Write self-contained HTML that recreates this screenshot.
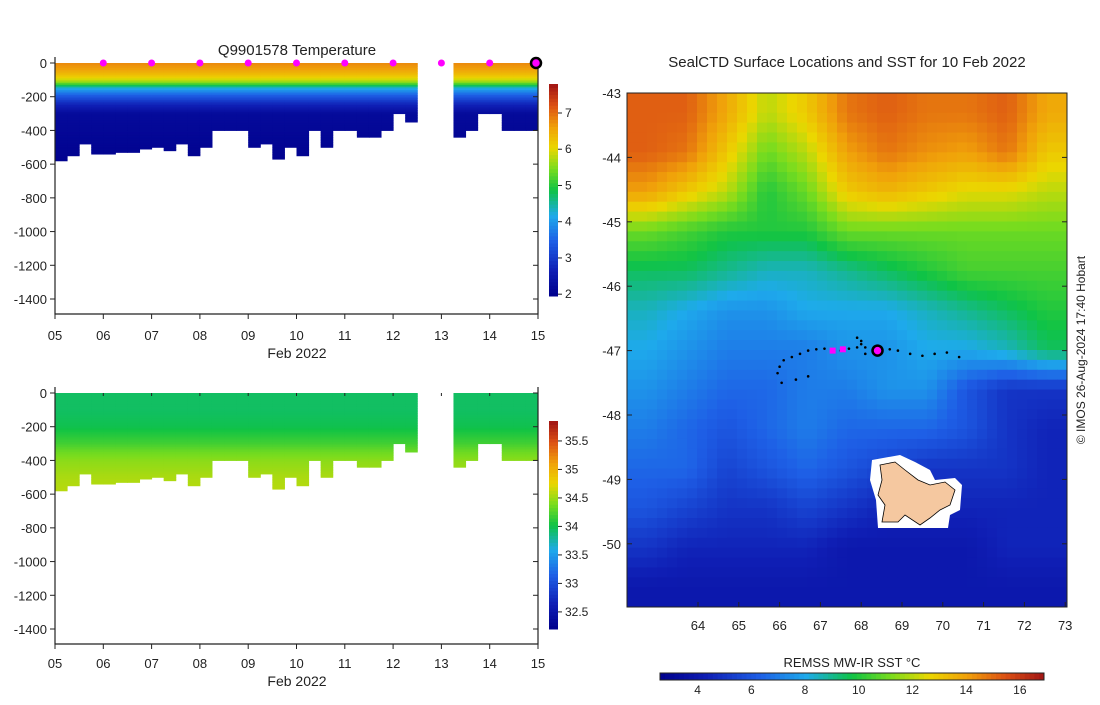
<!DOCTYPE html>
<html><head><meta charset="utf-8"><style>
body{margin:0;background:#fff;}
svg{font-family:"Liberation Sans","DejaVu Sans",sans-serif;}
</style></head><body>
<svg id="s" width="1100" height="700"></svg>
<script>
// ---- data ----
const profileTimes=[5.0,5.25,5.5,5.75,6.0,6.25,6.5,6.75,7.0,7.25,7.5,7.75,8.0,8.25,8.5,8.75,9.0,9.25,9.5,9.75,10.0,10.25,10.5,10.75,11.0,11.25,11.5,11.75,12.0,12.25,13.25,13.5,13.75,14.0,14.25,14.5,14.75];
const profileMaxDepth=[580,550,480,540,540,525,525,510,500,520,480,550,500,400,400,400,500,480,570,500,550,400,500,400,400,440,440,400,300,350,440,400,300,300,400,400,400];
const tempDepths=[0,40,80,110,130,150,190,240,300,600];
const tempValues=[6.8,6.6,6.2,5.7,5.0,4.2,3.5,2.8,2.2,2.0];
const salDepths=[0,100,200,250,300,350,400,500,600];
const salValues=[33.95,33.95,34.0,34.1,34.2,34.35,34.45,34.55,34.6];
const markerDays=[6,7,8,9,10,11,12,13,14];
const xTicks=["05","06","07","08","09","10","11","12","13","14","15"];
const yTicks=[0,-200,-400,-600,-800,-1000,-1200,-1400];
const tempCbTicks=[2,3,4,5,6,7];
const salCbTicks=[32.5,33,33.5,34,34.5,35,35.5];
const sstGrid=[
[15.2,15.2,13.8,12,13,14.8,15.2,14.8,14.8,15.2,13.8],
[15.2,14.8,13,11,12,14,14.8,14.3,14,14.8,13],
[14,13,12,10,11,13,13.5,13,12.5,12.5,12],
[11,10.5,10,10,10,11,11,11,11,11,11],
[9.5,9.5,9,8.5,8.5,9,9.5,10,10.5,10.5,10.5],
[8.5,8,7.5,7.5,8,8,8,8.5,9,9.5,10],
[8,7.5,7,7,7,7.5,7.5,8,8,8.5,9.5],
[7.5,7,6.5,6.5,7,7,7.5,7.5,6,5,5],
[7,6.5,6,6.5,7,6.5,6.5,6.5,6,5,4.5],
[6.5,6.5,5.5,6,6.5,6,5.5,5,5,5,4.5],
[6,5.5,5,5,5.5,5,4.5,4.5,4.5,4.5,4.5],
[5,4.5,4.5,4.5,4.5,4,4,4,4,4.5,4.5],
[4,4,4,4,4,4,4,4,4,4,4]];
const lonTicks=[64,65,66,67,68,69,70,71,72,73];
const latTicks=[-43,-44,-45,-46,-47,-48,-49,-50];
const sstTicks=[4,6,8,10,12,14,16];
const trackLon=[65.95,66.0,66.1,66.3,66.5,66.7,66.9,67.1,67.3,67.5,67.7,67.9,68.0,68.1,68.3,68.5,68.7,68.9,69.2,69.5,69.8,70.1,70.4,66.05,66.4,66.7,67.9,68.0,68.1];
const trackLat=[-47.35,-47.25,-47.15,-47.1,-47.05,-47.0,-46.98,-46.97,-47.0,-47.0,-46.97,-46.95,-46.85,-46.95,-47.0,-46.98,-46.98,-47.0,-47.05,-47.08,-47.05,-47.03,-47.1,-47.5,-47.45,-47.4,-46.8,-46.9,-47.05];
// ---- helpers ----
const S=document.getElementById('s');const NS='http://www.w3.org/2000/svg';
function el(t,a,p){const e=document.createElementNS(NS,t);for(const k in a)e.setAttribute(k,a[k]);(p||S).appendChild(e);return e;}
const stops=[[0,[0,0,140]],[0.12,[15,30,180]],[0.26,[30,95,230]],[0.38,[30,170,235]],[0.5,[15,195,70]],[0.6,[120,220,30]],[0.7,[235,215,0]],[0.8,[240,160,10]],[0.9,[220,80,20]],[1,[160,20,20]]];
function cmap(t){t=Math.max(0,Math.min(1,t));for(let i=1;i<stops.length;i++){if(t<=stops[i][0]){const a=stops[i-1],b=stops[i];const f=(t-a[0])/(b[0]-a[0]);const c=a[1].map((v,j)=>Math.round(v+(b[1][j]-v)*f));return `rgb(${c})`;}}return 'rgb(160,20,20)';}
function txt(x,y,s,size,anchor,name,extra){const t=el('text',Object.assign({x:x,y:y,'font-size':size||13,'text-anchor':anchor||'middle',fill:'#222'},extra||{}));t.textContent=s;return t;}
function interp(xs,ys,x){if(x<=xs[0])return ys[0];for(let i=1;i<xs.length;i++){if(x<=xs[i]){const f=(x-xs[i-1])/(xs[i]-xs[i-1]);return ys[i-1]+(ys[i]-ys[i-1])*f;}}return ys[ys.length-1];}

function profilePanel(top,name,depths,vals,vmin,vmax,cbTop,cbBot,cbTicks,markers,title,lblOff){
  const L=55,R=538,y0=top,ppd=236/1400,B=y0+251;
  const X=d=>55+(d-5)*48.3; const Y=z=>y0+z*ppd;
  const g=el('g',{});
  profileTimes.forEach((t,i)=>{
    const md=profileMaxDepth[i];const step=10;
    for(let z=0;z<md;z+=step){const v=interp(depths,vals,z+step/2);
      const r=el('rect',{x:X(t),y:Y(z),width:48.3*0.25+0.5,height:step*ppd+0.5,fill:cmap((v-vmin)/(vmax-vmin))},g);
      }
  });
  el('polyline',{points:`${L},${y0-6} ${L},${B} ${R},${B} ${R},${y0-6}`,fill:'none',stroke:'#222','stroke-width':1.2},g);
  yTicks.forEach(v=>{const y=Y(-v);el('line',{x1:L,x2:L-5,y1:y,y2:y,stroke:'#222'},g);el('line',{x1:R,x2:R-5,y1:y,y2:y,stroke:'#222'},g);txt(L-8,y+5,String(v),13,'end','y-tick-label');});
  xTicks.forEach((s,i)=>{const x=X(5+i);el('line',{x1:x,x2:x,y1:B,y2:B+5,stroke:'#222'},g);el('line',{x1:x,x2:x,y1:y0,y2:y0+3,stroke:'#222'},g);txt(x,B+lblOff,s,13,'middle','x-tick-label');});
  txt(297,B+lblOff+18,'Feb 2022',14,'middle','x-axis-title');
  if(title)txt(297,y0-8,title,15,'middle','chart-title');
  if(markers)markers.forEach(d=>{const m=el('circle',{cx:X(d),cy:y0,r:3.5,fill:'#f0f'},g);});
  const cbL=549,cbW=9,n=60;
  for(let i=0;i<n;i++){const yy=cbBot-(cbBot-cbTop)*(i+1)/n;const v=vmin+(vmax-vmin)*(i+0.5)/n;el('rect',{x:cbL,y:yy,width:cbW,height:(cbBot-cbTop)/n+0.5,fill:cmap((v-vmin)/(vmax-vmin))},g);}
  cbTicks.forEach(v=>{const yy=cbBot-(v-vmin)/(vmax-vmin)*(cbBot-cbTop);el('line',{x1:cbL+cbW,x2:cbL+cbW+4,y1:yy,y2:yy,stroke:'#222'},g);txt(cbL+cbW+7,yy+4,String(v),12,'start','colorbar-tick');});
}
profilePanel(63,'temperature',tempDepths,tempValues,1.95,7.8,84,296,tempCbTicks,markerDays,'Q9901578  Temperature',26);
el('circle',{cx:536,cy:63,r:5,fill:'#f0f',stroke:'#000','stroke-width':2.5});
profilePanel(393,'salinity',salDepths,salValues,32.2,35.85,421,629,salCbTicks,null,null,24);

// ---- map ----
const mL=627,mR=1067,mT=93,mB=607;
const LX=lon=>698+(lon-64)*40.8, LY=lat=>93+(-43-lat)*64.4;
const mg=el('g',{});
const sMin=2.6,sMax=16.9;
const rows=sstGrid.length,cols=sstGrid[0].length,cw=(mR-mL)/cols,ch=(mB-mT)/rows;
const sub=4;
function gv(r,c){r=Math.max(0,Math.min(rows-1,r));c=Math.max(0,Math.min(cols-1,c));return sstGrid[r][c];}
for(let i=0;i<rows*sub;i++)for(let j=0;j<cols*sub;j++){
  const fr=(i+0.5)/sub-0.5, fc=(j+0.5)/sub-0.5;const r0=Math.floor(fr),c0=Math.floor(fc),a=fr-r0,b=fc-c0;
  const v=(gv(r0,c0)*(1-b)+gv(r0,c0+1)*b)*(1-a)+(gv(r0+1,c0)*(1-b)+gv(r0+1,c0+1)*b)*a;
  const e=el('rect',{x:mL+j*cw/sub,y:mT+i*ch/sub,width:cw/sub+0.5,height:ch/sub+0.5,fill:cmap((v-sMin)/(sMax-sMin))},mg);
  
  
}
const land=el('polygon',{points:'872,460 900,455 915,462 930,470 935,480 955,478 962,485 960,510 950,515 948,528 878,528 876,500 870,480',fill:'#fff'},mg);
const k=el('polygon',{points:'880,465 895,462 905,470 918,480 930,485 945,482 955,490 950,505 940,510 930,518 920,525 905,515 898,522 882,522 885,505 878,495 882,480',fill:'#f5c8a0',stroke:'#000','stroke-width':0.8},mg);
trackLon.forEach((lo,i)=>{const d=el('circle',{cx:LX(lo),cy:LY(trackLat[i]),r:1.3,fill:'#000'},mg);});
[[67.3,-47.0],[67.55,-46.98]].forEach(p=>{const m=el('rect',{x:LX(p[0])-3,y:LY(p[1])-3,width:6,height:6,fill:'#f0f'},mg);});
el('circle',{cx:LX(68.4),cy:LY(-47.0),r:5,fill:'#f0f',stroke:'#000','stroke-width':2.5},mg);
el('rect',{x:mL,y:mT,width:mR-mL,height:mB-mT,fill:'none',stroke:'#222'},mg);
lonTicks.forEach(v=>{const x=LX(v);el('line',{x1:x,x2:x,y1:mB,y2:mB-5,stroke:'#222'},mg);txt(x,mB+23,String(v),13,'middle','lon-tick-label');});
latTicks.forEach(v=>{const y=LY(v);el('line',{x1:mL,x2:mL+5,y1:y,y2:y,stroke:'#222'},mg);el('line',{x1:mR,x2:mR-5,y1:y,y2:y,stroke:'#222'},mg);txt(mL-6,y+5,String(v),13,'end','lat-tick-label');});
txt(847,67,'SealCTD Surface Locations and SST for 10 Feb 2022',15,'middle','map-title');
const hL=660,hR=1044,hT=673,hH=7;
for(let i=0;i<80;i++){const v=sMin+(sMax-sMin)*(i+0.5)/80;el('rect',{x:hL+(hR-hL)*i/80,y:hT,width:(hR-hL)/80+0.5,height:hH,fill:cmap((v-sMin)/(sMax-sMin))});}
el('rect',{x:hL,y:hT,width:hR-hL,height:hH,fill:'none',stroke:'#222'});
sstTicks.forEach(v=>{const x=hL+(v-sMin)/(sMax-sMin)*(hR-hL);txt(x,694,String(v),12,'middle','sst-colorbar-tick');});
txt(852,667,'REMSS MW-IR SST °C',13,'middle','sst-colorbar-label');
txt(0,0,'© IMOS 26-Aug-2024 17:40 Hobart',12,'middle','credit-text',{transform:'translate(1085,350) rotate(-90)'});
</script>
</body></html>
